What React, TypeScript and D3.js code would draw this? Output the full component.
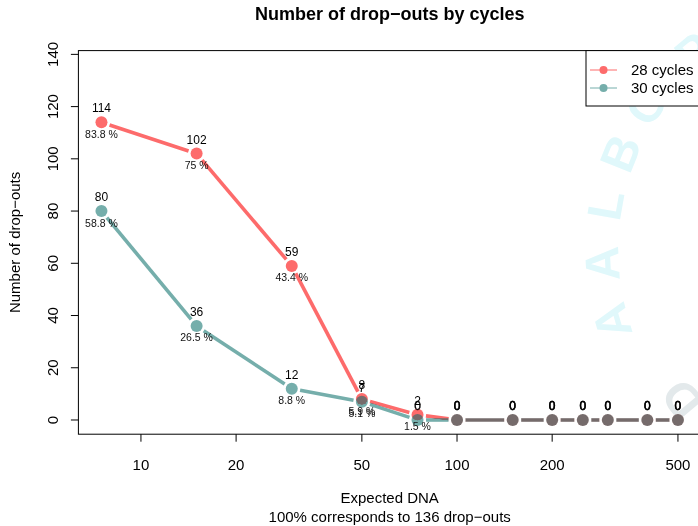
import React from "react";
import * as d3 from "d3";

// Expected DNA amounts (log-scaled x axis)
const expectedDNA = [7.5, 15, 30, 50, 75, 100, 150, 200, 250, 300, 400, 500];
// Drop-out counts per series
const dropouts28 = [114, 102, 59, 8, 2, 0, 0, 0, 0, 0, 0, 0];
const dropouts30 = [80, 36, 12, 7, 0, 0, 0, 0, 0, 0, 0, 0];
const seriesNames = ["28 cycles", "30 cycles"];
const seriesColors = ["#FD6B6B", "#75AEAB"];
const totalDropouts = 136;
const xTickValues = [10, 20, 50, 100, 200, 500];
const yTickValues = [0, 20, 40, 60, 80, 100, 120, 140];
// circular stamp in the background: letters and their angles on the ring
const stampLetters = ["A", "A", "L", "B", "C", "P"];
const stampAngles = [164, 177, 190, 202, 214, 230];

const W = 698;
const H = 526;
const FONT = "'Liberation Sans', Arial, Helvetica, sans-serif";

export default function App() {
  const left = 78.4;
  const right = 701;
  const top = 50.6;
  const bottom = 434.2;

  const lo = Math.log10(d3.min(expectedDNA) as number);
  const hi = Math.log10(d3.max(expectedDNA) as number);
  const pad = 0.04 * (hi - lo);
  const x = d3
    .scaleLog()
    .domain([Math.pow(10, lo - pad), Math.pow(10, hi + pad)])
    .range([left, right]);
  const y = d3
    .scaleLinear()
    .domain([-0.04 * totalDropouts, totalDropouts * 1.04])
    .range([bottom, top]);

  const series = [dropouts28, dropouts30].map((vals, i) => ({
    name: seriesNames[i],
    color: seriesColors[i],
    pts: vals.map((v, j) => ({ v, px: x(expectedDNA[j]), py: y(v) })),
  }));

  const r = 6;
  const gap = 8.5;

  const segments = (pts: { px: number; py: number }[]) => {
    const out: { x1: number; y1: number; x2: number; y2: number }[] = [];
    for (let i = 0; i < pts.length - 1; i++) {
      const a = pts[i];
      const b = pts[i + 1];
      const dx = b.px - a.px;
      const dy = b.py - a.py;
      const d = Math.hypot(dx, dy);
      if (d <= 2 * gap) continue;
      const ux = dx / d;
      const uy = dy / d;
      out.push({
        x1: a.px + ux * gap,
        y1: a.py + uy * gap,
        x2: b.px - ux * gap,
        y2: b.py - uy * gap,
      });
    }
    return out;
  };

  const pctLabel = (v: number) => `${Math.round((v / totalDropouts) * 1000) / 10} %`;

  // stamp ring geometry
  const ringCx = 860;
  const ringCy = 250;
  const ringR = 258;
  const onRing = (deg: number, rad: number) => {
    const t = (deg * Math.PI) / 180;
    return [ringCx + rad * Math.cos(t), ringCy + rad * Math.sin(t)];
  };

  return (
    <svg
      width={W}
      height={H}
      style={{ position: "absolute", left: 0, top: 0, background: "#fff" }}
      fontFamily={FONT}
    >
      <rect x={0} y={0} width={W} height={H} fill="#fff" />

      {/* background stamp */}
      <g fontWeight="bold" fontSize={48} textAnchor="middle" dominantBaseline="central">
        {stampLetters.map((ch, i) => {
          const [px, py] = onRing(stampAngles[i], ringR);
          return (
            <text
              key={i}
              transform={`translate(${px},${py}) rotate(${stampAngles[i] + 90})`}
              fill="#E0F8FB"
            >
              {ch}
            </text>
          );
        })}
        {(() => {
          const a = 140;
          const [px, py] = onRing(a, 232);
          return (
            <text transform={`translate(${px},${py}) rotate(${a + 90})`} fill="#E3E9EB">
              D
            </text>
          );
        })()}
      </g>

      {/* title */}
      <text
        x={(left + right) / 2}
        y={20}
        textAnchor="middle"
        fontWeight="bold"
        fontSize={18}
        fill="#000"
      >
        Number of drop−outs by cycles
      </text>

      {/* series: lines with gaps around points, then points */}
      {series.map((s, i) => (
        <g key={s.name} style={i > 0 ? { mixBlendMode: "darken" } : undefined}>
          {segments(s.pts).map((sg, k) => (
            <line
              key={k}
              x1={sg.x1}
              y1={sg.y1}
              x2={sg.x2}
              y2={sg.y2}
              stroke={s.color}
              strokeWidth={3.6}
            />
          ))}
          {s.pts.map((p, k) => (
            <circle key={k} cx={p.px} cy={p.py} r={r} fill={s.color} />
          ))}
        </g>
      ))}

      {/* value and percentage labels */}
      {series.map((s) => (
        <g key={s.name + "-lab"} textAnchor="middle" fill="#000">
          {s.pts.map((p, k) => (
            <g key={k}>
              <text
                x={p.px}
                y={p.py - 10}
                fontSize={12}
                stroke={p.v === 0 ? "#000" : "none"}
                strokeWidth={0.35}
              >
                {p.v}
              </text>
              {p.v > 0 && (
                <text x={p.px} y={p.py + 15.5} fontSize={10.5} fill="#111">
                  {pctLabel(p.v)}
                </text>
              )}
            </g>
          ))}
        </g>
      ))}

      {/* plot box */}
      <rect
        x={left}
        y={top}
        width={right - left}
        height={bottom - top}
        fill="none"
        stroke="#000"
        strokeWidth={1}
      />

      {/* y axis */}
      <g fontSize={15} textAnchor="middle" fill="#000">
        {yTickValues.map((t) => (
          <g key={t}>
            <line x1={left - 7.5} x2={left} y1={y(t)} y2={y(t)} stroke="#000" />
            <text transform={`translate(${57.5},${y(t)}) rotate(-90)`}>{t}</text>
          </g>
        ))}
      </g>
      <text
        transform={`translate(20,${(top + bottom) / 2}) rotate(-90)`}
        textAnchor="middle"
        fontSize={15}
      >
        Number of drop−outs
      </text>

      {/* x axis */}
      <g fontSize={15} textAnchor="middle" fill="#000">
        {xTickValues.map((t) => (
          <g key={t}>
            <line x1={x(t)} x2={x(t)} y1={bottom} y2={bottom + 7.5} stroke="#000" />
            <text x={x(t)} y={469.5}>
              {t}
            </text>
          </g>
        ))}
      </g>
      <text x={(left + right) / 2} y={503} textAnchor="middle" fontSize={15}>
        Expected DNA
      </text>
      <text x={(left + right) / 2} y={522} textAnchor="middle" fontSize={15}>
        100% corresponds to {totalDropouts} drop−outs
      </text>

      {/* legend */}
      <g>
        <rect x={586} y={top} width={right - 586} height={106 - top} fill="#fff" stroke="#000" />
        {series.map((s, i) => {
          const ly = 70 + i * 18;
          return (
            <g key={s.name + "-leg"}>
              <line x1={590} x2={617} y1={ly} y2={ly} stroke={s.color} strokeWidth={1} />
              <circle cx={603.5} cy={ly} r={4} fill={s.color} />
              <text x={631} y={ly + 5.4} fontSize={15}>
                {s.name}
              </text>
            </g>
          );
        })}
      </g>
    </svg>
  );
}
